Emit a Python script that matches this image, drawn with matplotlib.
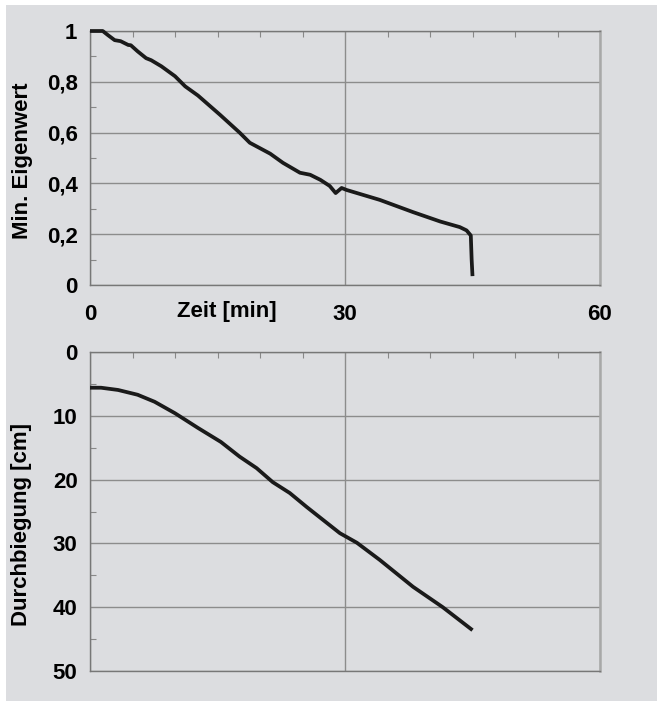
import matplotlib
matplotlib.use("Agg")
import matplotlib.pyplot as plt
from matplotlib.patches import Rectangle
from matplotlib.ticker import MultipleLocator, FixedLocator

# Minimaler Eigenwert ueber der Zeit
zeit_eigen = [0, 1.5, 2.1, 2.9, 3.6, 4.5, 4.8, 5.6, 6.6, 7.2, 8.4, 10.0,
              11.2, 12.7, 15.3, 17.6, 18.8, 21.2, 22.7, 24.7, 25.9, 27.1,
              28.2, 28.9, 29.6, 30.2, 31.8, 34.1, 38.0, 41.2, 43.5, 44.3,
              44.8, 44.9, 45.0]
eigenwert = [1.0, 1.0, 0.984, 0.964, 0.96, 0.945, 0.944, 0.92, 0.893, 0.885,
             0.861, 0.822, 0.782, 0.746, 0.67, 0.60, 0.56, 0.517, 0.481,
             0.442, 0.434, 0.414, 0.39, 0.362, 0.382, 0.374, 0.358, 0.335,
             0.287, 0.25, 0.228, 0.215, 0.195, 0.10, 0.035]

# Durchbiegung ueber der Zeit
zeit_biegung = [0, 1.3, 3.3, 5.6, 7.6, 10.0, 12.7, 15.4, 17.6, 19.6, 21.5,
                23.5, 25.5, 27.4, 29.4, 31.4, 34.1, 38.0, 41.5, 45.0]
durchbiegung = [5.6, 5.6, 5.95, 6.7, 7.8, 9.6, 11.9, 14.1, 16.4, 18.2, 20.4,
                22.1, 24.3, 26.3, 28.4, 29.9, 32.6, 36.8, 40.0, 43.6]

eigen_ticks = [0, 0.2, 0.4, 0.6, 0.8, 1.0]
eigen_labels = ["0", "0,2", "0,4", "0,6", "0,8", "1"]
biegung_ticks = [0, 10, 20, 30, 40, 50]
zeit_ticks = [0, 30, 60]

plt.rcParams["font.family"] = ["Liberation Sans", "DejaVu Sans"]
plt.rcParams["font.weight"] = "bold"

W, H = 657, 701
FS = 16
bg = "#dcdde0"
grid = "#8c8c8c"
line = "#1a1a1a"

fig = plt.figure(figsize=(W / 100, H / 100), dpi=100, facecolor="white")
fig.patches.append(Rectangle((6 / W, 0), 1, 1 - 5 / H, transform=fig.transFigure,
                             facecolor=bg, edgecolor="none", zorder=-10))


def style(ax):
    ax.set_facecolor(bg)
    ax.set_xlim(0, 60)
    ax.xaxis.set_major_locator(FixedLocator(zeit_ticks))
    ax.xaxis.set_minor_locator(MultipleLocator(5))
    ax.tick_params(axis="x", which="both", top=True, bottom=False,
                   direction="in", length=4, width=0.8, color="#888888",
                   labeltop=False)
    ax.tick_params(axis="y", which="minor", left=True, direction="in",
                   length=4, width=0.8, color="#888888")
    ax.tick_params(axis="y", which="major", length=0, pad=9, labelsize=FS)
    ax.grid(True, which="major", color=grid, linewidth=1.0)
    ax.set_axisbelow(True)
    for side in ("left", "bottom", "top"):
        ax.spines[side].set_color("#777777")
        ax.spines[side].set_linewidth(1.0)
    ax.spines["right"].set_color("#a8a8a8")
    ax.spines["right"].set_linewidth(1.8)


# oben: Eigenwert
ax1 = fig.add_axes([90 / W, 1 - 285 / H, 510 / W, 254 / H])
style(ax1)
ax1.plot(zeit_eigen, eigenwert, color=line, linewidth=2.7, clip_on=False,
         solid_joinstyle="round", solid_capstyle="butt", zorder=5)
ax1.set_ylim(0, 1)
ax1.yaxis.set_major_locator(FixedLocator(eigen_ticks))
ax1.set_yticklabels(eigen_labels)
ax1.yaxis.set_minor_locator(MultipleLocator(0.1))
ax1.tick_params(axis="x", which="major", labelbottom=True, length=0,
                pad=14, labelsize=FS)
ax1.text(0.268, -0.106, "Zeit [min]", transform=ax1.transAxes,
         ha="center", va="center", fontsize=FS, fontweight="bold")

# unten: Durchbiegung
ax2 = fig.add_axes([90 / W, 1 - 671 / H, 510 / W, 319 / H])
style(ax2)
ax2.plot(zeit_biegung, durchbiegung, color=line, linewidth=2.7, clip_on=False,
         solid_joinstyle="round", solid_capstyle="butt", zorder=5)
ax2.set_ylim(50, 0)
ax2.yaxis.set_major_locator(FixedLocator(biegung_ticks))
ax2.yaxis.set_minor_locator(MultipleLocator(5))
ax2.tick_params(axis="x", which="major", labelbottom=False, length=0)

fig.text(23 / W, 1 - 161 / H, "Min. Eigenwert", rotation=90,
         ha="center", va="center", fontsize=FS, fontweight="bold")
fig.text(22 / W, 1 - 525 / H, "Durchbiegung [cm]", rotation=90,
         ha="center", va="center", fontsize=FS, fontweight="bold")

fig.savefig("out.png", dpi=100, facecolor="white")
